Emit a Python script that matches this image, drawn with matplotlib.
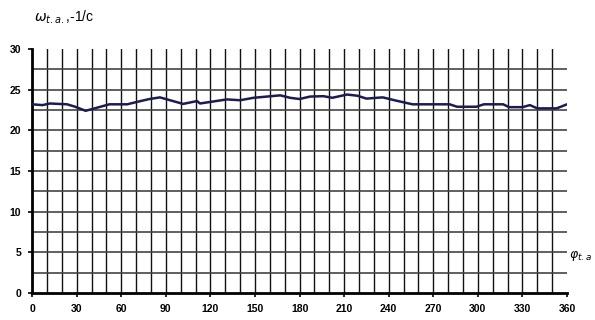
import numpy as np
import matplotlib
matplotlib.use('Agg')
import matplotlib.pyplot as plt

plt.rcParams['font.family'] = ['Liberation Sans', 'DejaVu Sans']

phi = [0, 7, 12, 23.5, 29, 36, 46, 52, 64, 73, 79, 86, 101.6, 111, 113, 131, 140,
       149, 167, 173.6, 180, 187, 196, 202, 212, 219, 225, 232, 236, 245, 256, 281,
       286, 299, 304, 317, 321, 330, 335, 340, 346, 353, 360]
omega = [23.2, 23.1, 23.3, 23.2, 22.9, 22.4, 22.9, 23.2, 23.2, 23.6, 23.85, 24.05, 23.25,
         23.6, 23.3, 23.8, 23.7, 24.0, 24.3, 24.0, 23.85, 24.15, 24.2, 24.0, 24.4, 24.25,
         23.9, 24.0, 24.05, 23.65, 23.2, 23.2, 22.9, 22.9, 23.2, 23.2, 22.85, 22.85,
         23.1, 22.7, 22.7, 22.7, 23.2]
x_ticks = list(range(0, 361, 30))
y_ticks = [0, 5, 10, 15, 20, 25, 30]

fig = plt.figure(figsize=(5.95, 3.2), dpi=100)
ax = fig.add_axes([0.054, 0.084, 0.899, 0.763])

# grid
for gx in np.arange(10, 360, 10):
    ax.axvline(gx, color='#111111', lw=1.0, zorder=1)
for gy in np.arange(2.5, 30, 2.5):
    ax.axhline(gy, color='#444444', lw=1.2, zorder=1)

ax.plot(phi, omega, color='#1c1c52', lw=1.8, zorder=3)

ax.set_xlim(0, 360)
ax.set_ylim(0, 30)
ax.set_xticks(x_ticks)
ax.set_yticks(y_ticks)
ax.tick_params(axis='both', labelsize=7.5, length=3, width=1.2, pad=5)
for lab in ax.get_xticklabels() + ax.get_yticklabels():
    lab.set_fontweight('bold')
ax.spines['top'].set_visible(False)
ax.spines['right'].set_visible(False)
ax.spines['left'].set_linewidth(2)
ax.spines['bottom'].set_linewidth(2)

fig.text(0.057, 0.945, r'$\omega_{t.a.}$,-1/c', fontsize=10, va='center', ha='left')
fig.text(0.957, 0.2, r'$\varphi_{t.a}$', fontsize=9, va='center', ha='left')

fig.savefig('out.png', dpi=100)
